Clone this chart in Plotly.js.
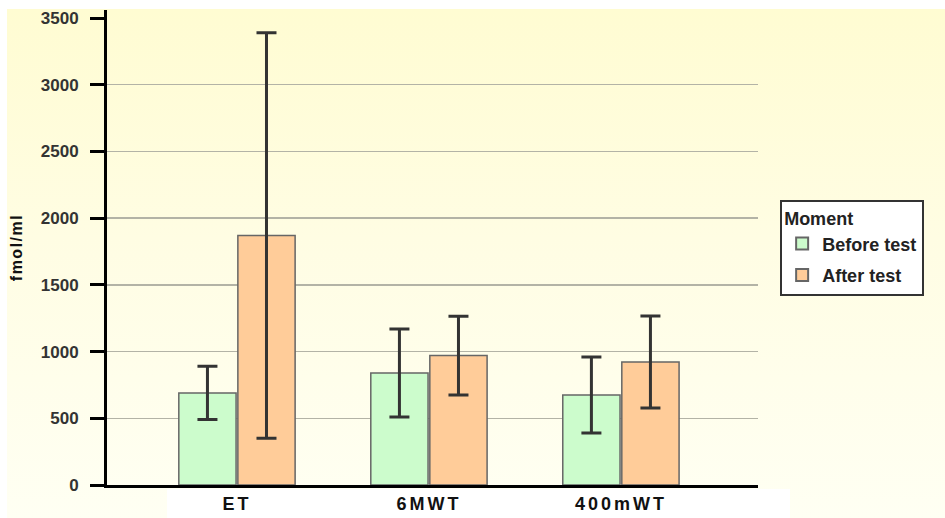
<!DOCTYPE html>
<html>
<head>
<meta charset="utf-8">
<script src="https://cdn.plot.ly/plotly-3.0.1.min.js"></script>
<style>
  html, body { margin: 0; padding: 0; background: #ffffff; }
  #wrap { position: relative; width: 945px; height: 518px; background: #ffffff; overflow: hidden; }
  #bg { position: absolute; left: 7px; top: 9px; right: 0; bottom: 0;
        background: linear-gradient(to bottom, #fffcd2 0%, #fffde3 45%, #fffff3 100%); }
  #whitebox { position: absolute; left: 167px; top: 489px; width: 623px; height: 29px; background: #ffffff; }
  #chart { position: absolute; left: 0; top: 0; width: 945px; height: 518px; }
  .xtick text { letter-spacing: 3px; }
  .g-ytitle text { letter-spacing: 1.5px; }
</style>
</head>
<body>
<div id="wrap">
  <div id="bg"></div>
  <div id="whitebox"></div>
  <div id="chart"></div>
</div>
<script>
const categories = ['ET', '6MWT', '400mWT'];
const beforeValues = [690, 840, 675];
const beforeErrors = [200, 330, 285];
const afterValues = [1870, 970, 922];
const afterErrors = [1520, 295, 345];
const yTickValues = [0, 500, 1000, 1500, 2000, 2500, 3000, 3500];
const gridValues = [500, 1000, 1500, 2000, 2500, 3000];

const errStyle = { type: 'data', visible: true, color: '#333333', thickness: 3, width: 10 };
const legendFont = { family: 'Liberation Sans, Arial, sans-serif', size: 18, color: '#222222', weight: 'bold' };

const traces = [
  {
    type: 'bar', name: 'Before test', x: categories, y: beforeValues, legendgroup: 'before',
    marker: { color: '#ccfccc', line: { color: '#666666', width: 1.5 } },
    error_y: Object.assign({ array: beforeErrors }, errStyle)
  },
  {
    type: 'bar', name: 'After test', x: categories, y: afterValues, legendgroup: 'after',
    marker: { color: '#ffcc99', line: { color: '#666666', width: 1.5 } },
    error_y: Object.assign({ array: afterErrors }, errStyle)
  }
];

// invisible trace that carries the grid axis
traces.push({ type: 'scatter', x: [categories[0]], y: [0], yaxis: 'y2', mode: 'markers',
  marker: { opacity: 0 }, showlegend: false, hoverinfo: 'skip' });

const layout = {
  width: 945, height: 518,
  paper_bgcolor: 'rgba(0,0,0,0)',
  plot_bgcolor: 'rgba(0,0,0,0)',
  margin: { l: 107, r: 187, t: 10, b: 33 },
  barmode: 'group',
  bargap: 0.385,
  bargroupgap: 0.03,
  showlegend: true,
  xaxis: {
    type: 'category',
    range: [-0.677, 2.714],
    showline: true, linecolor: '#000000', linewidth: 3,
    ticks: '', showgrid: false, zeroline: false,
    tickfont: { family: 'Liberation Sans, Arial, sans-serif', size: 18, color: '#111111', weight: 'bold' }
  },
  yaxis: {
    range: [0, 3560],
    tickmode: 'array', tickvals: yTickValues,
    showline: true, linecolor: '#000000', linewidth: 3,
    ticks: 'outside', ticklen: 14, tickwidth: 3, tickcolor: '#000000',
    ticklabelstandoff: 8,
    showgrid: false, zeroline: false,
    tickfont: { family: 'Liberation Sans, Arial, sans-serif', size: 17, color: '#333333', weight: 'bold' },
    title: { text: 'fmol/ml', standoff: 15,
             font: { family: 'Liberation Sans, Arial, sans-serif', size: 16, color: '#111111', weight: 'bold' } }
  },
  yaxis2: {
    overlaying: 'y', side: 'left',
    range: [0, 3560],
    tickmode: 'array', tickvals: gridValues,
    showticklabels: false, ticks: '', showline: false, zeroline: false,
    showgrid: true, gridcolor: '#b3b3a6', gridwidth: 1.5
  },
  legend: {
    x: 1.034, y: 0.6, xanchor: 'left', yanchor: 'top',
    bgcolor: '#ffffff', bordercolor: '#333333', borderwidth: 2,
    font: legendFont,
    tracegroupgap: 5,
    entrywidth: 150, entrywidthmode: 'pixels',
    title: { text: 'Moment', font: legendFont },
    itemsizing: 'constant'
  }
};

Plotly.newPlot('chart', traces, layout, { displayModeBar: false, staticPlot: true });
</script>
</body>
</html>
